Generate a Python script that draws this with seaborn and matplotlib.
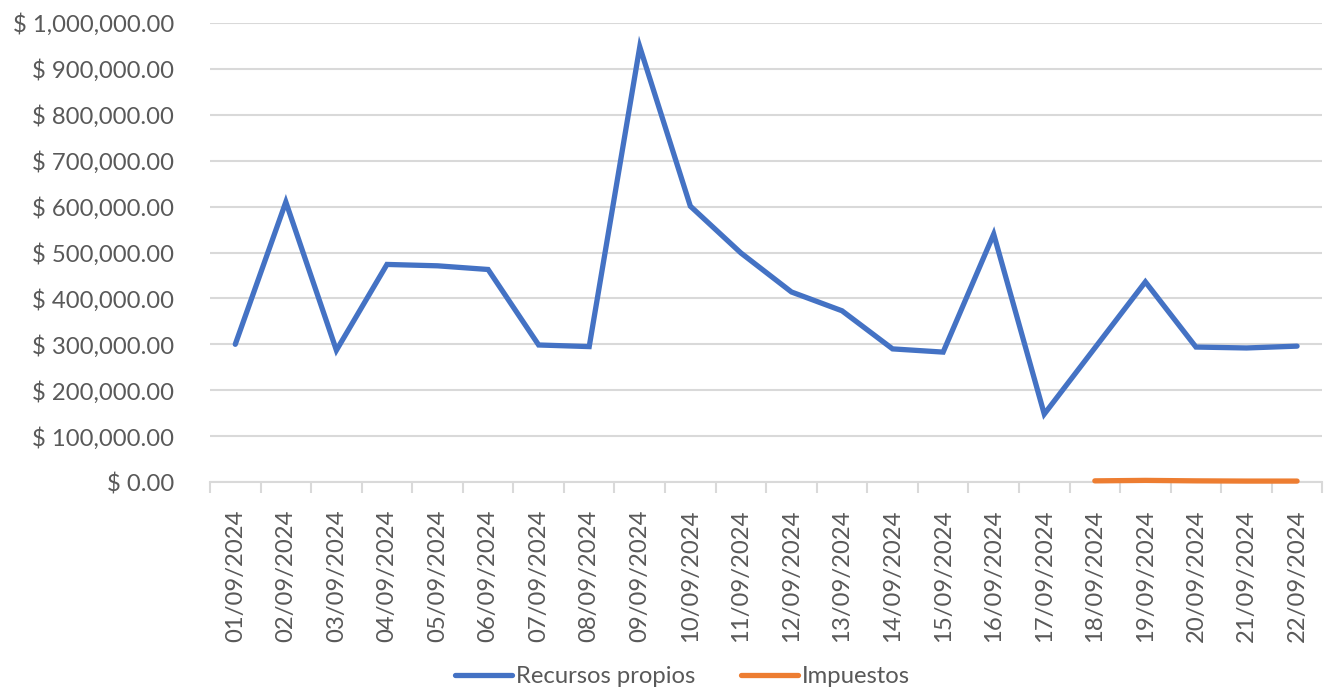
import seaborn as sns
import matplotlib.pyplot as plt
import matplotlib.ticker as mticker
import numpy as np
import pandas as pd

fechas = ["%02d/09/2024" % d for d in range(1, 23)]
recursos_propios = [300000, 610000, 287000, 474000, 471000, 463000, 298500, 295000,
                    948000, 601000, 499000, 414000, 373000, 290000, 283000, 540000,
                    148000, 292000, 436000, 294000, 292000, 296000]
impuestos = [np.nan] * 17 + [2500, 3500, 2500, 2000, 2000]

df = pd.DataFrame({
    "fecha": fechas * 2,
    "valor": recursos_propios + impuestos,
    "serie": ["Recursos propios"] * 22 + ["Impuestos"] * 22,
})

sns.set_theme(style="white")
plt.rcParams['font.family'] = ['Lato', 'DejaVu Sans']

fig = plt.figure(figsize=(13.25, 6.89), dpi=100)
ax = fig.add_axes([210 / 1325, 1 - 482 / 689, 1 - 210 / 1325 - 0.002, (482 - 23) / 689])

ax.yaxis.grid(True, color="#D9D9D9", linewidth=1.5)
ax.set_axisbelow(True)

sns.lineplot(data=df, x="fecha", y="valor", hue="serie", sort=False,
             palette={"Recursos propios": "#4472C4", "Impuestos": "#ED7D31"},
             linewidth=3.8, ax=ax, legend=True)
for ln in ax.lines:
    ln.set_solid_capstyle("round")
    ln.set_solid_joinstyle("miter")
    ln.set_clip_on(False)
    ln.set_zorder(4)

ax.set_xlim(-0.5, 21.5)
ax.set_ylim(0, 1000000)
ax.yaxis.set_major_locator(mticker.MultipleLocator(100000))
ax.yaxis.set_major_formatter(mticker.FuncFormatter(lambda v, p: "$ {:,.2f}".format(v)))
ax.set_xlabel("")
ax.set_ylabel("")

for s in ["top", "right", "left"]:
    ax.spines[s].set_visible(False)
ax.spines["bottom"].set_color("#D9D9D9")
ax.spines["bottom"].set_linewidth(1.5)

ax.set_xticks(np.arange(22))
ax.set_xticklabels(fechas, rotation=90)
ax.xaxis.set_minor_locator(mticker.FixedLocator(np.arange(-0.5, 22, 1)))
ax.tick_params(axis="x", which="major", length=0, pad=20, labelsize=17.2, labelcolor="#595959")
ax.tick_params(axis="x", which="minor", length=8, width=1.5, color="#D9D9D9", direction="out", bottom=True)
ax.tick_params(axis="y", length=0, pad=26, labelsize=17.2, labelcolor="#595959")

handles, labels = ax.get_legend_handles_labels()
ax.get_legend().remove()
leg = fig.legend(handles, labels, loc="center", bbox_to_anchor=(0.515, 0.018), ncol=2,
                 frameon=False, fontsize=17.2, handlelength=2.4, handletextpad=0.15,
                 columnspacing=1.9)
for t in leg.get_texts():
    t.set_color("#595959")

fig.savefig("out.png", dpi=100)
